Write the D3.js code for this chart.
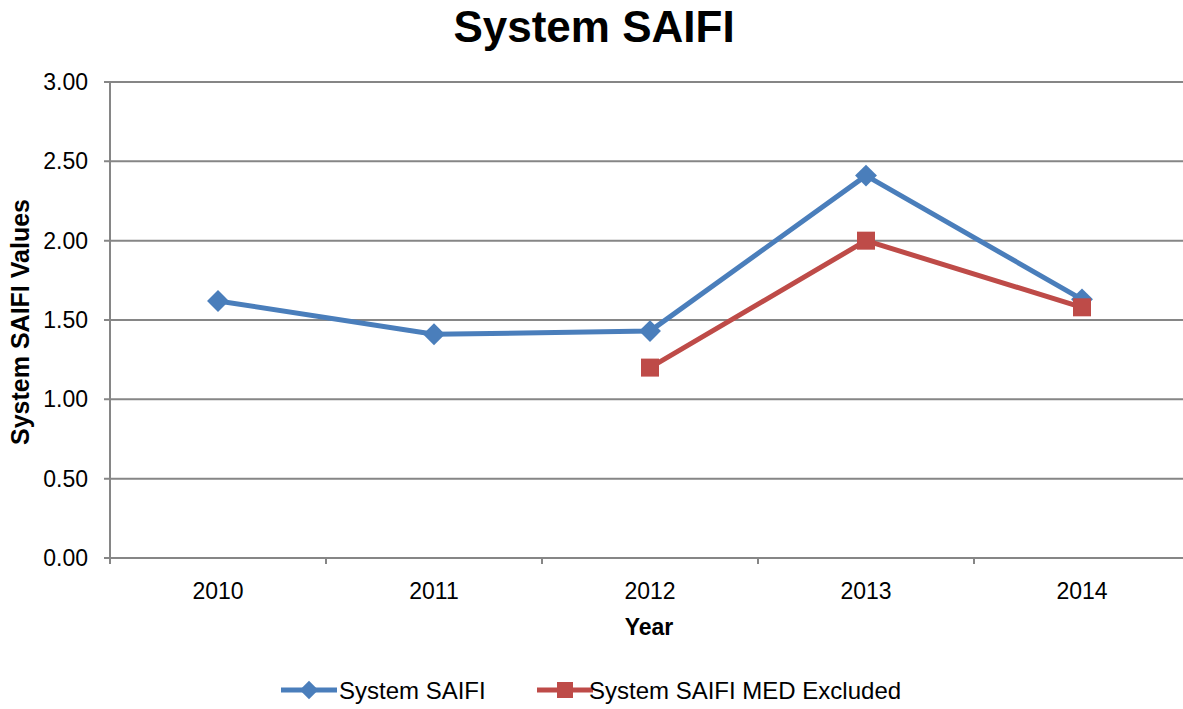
<!DOCTYPE html>
<html>
<head>
<meta charset="utf-8">
<script src="https://cdn.jsdelivr.net/npm/d3@7"></script>
<style>
  body { margin: 0; background: #fff; }
  text { font-family: "Liberation Sans", Arial, sans-serif; fill: #000; }
</style>
</head>
<body>
<div id="chart"></div>
<script>
// chart data
var years = ["2010", "2011", "2012", "2013", "2014"];
var saifi = [1.62, 1.41, 1.43, 2.41, 1.63];
var saifiMed = [null, null, 1.20, 2.00, 1.58];
var yTicks = [0, 0.5, 1.0, 1.5, 2.0, 2.5, 3.0];
var seriesNames = ["System SAIFI", "System SAIFI MED Excluded"];
var seriesColors = ["#4A7EBB", "#BE4B48"];

var width = 1183, height = 709;
var plotLeft = 110, plotRight = 1190, plotTop = 82, plotBottom = 558;

var svg = d3.select("#chart").append("svg")
  .attr("width", width)
  .attr("height", height);

var x = d3.scaleBand().domain(years).range([plotLeft, plotRight]);
var y = d3.scaleLinear().domain([0, 3]).range([plotBottom, plotTop]);

// gridlines
svg.append("g")
  .selectAll("line")
  .data(yTicks)
  .enter()
  .append("line")
  .attr("x1", plotLeft - 6)
  .attr("x2", plotRight)
  .attr("y1", function(d) { return y(d); })
  .attr("y2", function(d) { return y(d); })
  .attr("stroke", "#868686")
  .attr("stroke-width", 2);

// y axis line
svg.append("line")
  .attr("x1", plotLeft).attr("x2", plotLeft)
  .attr("y1", plotTop).attr("y2", plotBottom + 6)
  .attr("stroke", "#868686").attr("stroke-width", 2);

// x tick marks at category boundaries
var bounds = years.map(function(d) { return x(d); }).slice(1);
svg.append("g")
  .selectAll("line")
  .data(bounds)
  .enter()
  .append("line")
  .attr("x1", function(d) { return d; })
  .attr("x2", function(d) { return d; })
  .attr("y1", plotBottom)
  .attr("y2", plotBottom + 6)
  .attr("stroke", "#868686")
  .attr("stroke-width", 2);

// y tick labels
svg.append("g")
  .selectAll("text")
  .data(yTicks)
  .enter()
  .append("text")
  .attr("x", 88)
  .attr("y", function(d) { return y(d) + 8; })
  .attr("text-anchor", "end")
  .style("font-size", "23px")
  .text(function(d) { return d.toFixed(2); });

// x tick labels
svg.append("g")
  .selectAll("text")
  .data(years)
  .enter()
  .append("text")
  .attr("x", function(d) { return x(d) + x.bandwidth() / 2; })
  .attr("y", 599)
  .attr("text-anchor", "middle")
  .style("font-size", "23px")
  .text(function(d) { return d; });

// titles
svg.append("text")
  .attr("x", 594).attr("y", 42)
  .attr("text-anchor", "middle")
  .style("font-size", "44px").style("font-weight", "bold")
  .text("System SAIFI");

svg.append("text")
  .attr("x", 649).attr("y", 635)
  .attr("text-anchor", "middle")
  .style("font-size", "23px").style("font-weight", "bold")
  .text("Year");

svg.append("text")
  .attr("transform", "translate(29,322) rotate(-90)")
  .attr("text-anchor", "middle")
  .style("font-size", "25px").style("font-weight", "bold")
  .text("System SAIFI Values");

// series
var cx = function(i) { return x(years[i]) + x.bandwidth() / 2; };
var line = d3.line()
  .defined(function(d) { return d != null; })
  .x(function(d, i) { return cx(i); })
  .y(function(d) { return y(d); });

svg.append("path")
  .datum(saifi)
  .attr("d", line)
  .attr("fill", "none")
  .attr("stroke", seriesColors[0])
  .attr("stroke-width", 5)
  .attr("stroke-linejoin", "round");

svg.append("g")
  .selectAll("path")
  .data(saifi)
  .enter()
  .append("path")
  .attr("d", d3.symbol().type(d3.symbolSquare).size(240))
  .attr("transform", function(d, i) { return "translate(" + cx(i) + "," + y(d) + ") rotate(45)"; })
  .attr("fill", seriesColors[0]);

svg.append("path")
  .datum(saifiMed)
  .attr("d", line)
  .attr("fill", "none")
  .attr("stroke", seriesColors[1])
  .attr("stroke-width", 5)
  .attr("stroke-linejoin", "round");

svg.append("g")
  .selectAll("rect")
  .data(saifiMed.map(function(d, i) { return {v: d, i: i}; }).filter(function(d) { return d.v != null; }))
  .enter()
  .append("rect")
  .attr("x", function(d) { return cx(d.i) - 9; })
  .attr("y", function(d) { return y(d.v) - 9; })
  .attr("width", 18)
  .attr("height", 18)
  .attr("fill", seriesColors[1]);

// legend
var legendX = [281, 537];
var legY = 690;
var leg = svg.append("g")
  .selectAll("g")
  .data(seriesNames)
  .enter()
  .append("g")
  .attr("transform", function(d, i) { return "translate(" + legendX[i] + "," + legY + ")"; });

leg.append("line")
  .attr("x1", 0).attr("x2", 56)
  .attr("stroke", function(d, i) { return seriesColors[i]; })
  .attr("stroke-width", 5);

leg.each(function(d, i) {
  var g = d3.select(this);
  if (i === 0) {
    g.append("path")
      .attr("d", d3.symbol().type(d3.symbolSquare).size(170))
      .attr("transform", "translate(28,0) rotate(45)")
      .attr("fill", seriesColors[0]);
  } else {
    g.append("rect")
      .attr("x", 20).attr("y", -8)
      .attr("width", 16).attr("height", 16)
      .attr("fill", seriesColors[1]);
  }
});

leg.append("text")
  .attr("x", function(d, i) { return i === 0 ? 58 : 52; })
  .attr("y", 9)
  .style("font-size", "24px")
  .text(function(d) { return d; });
</script>
</body>
</html>
